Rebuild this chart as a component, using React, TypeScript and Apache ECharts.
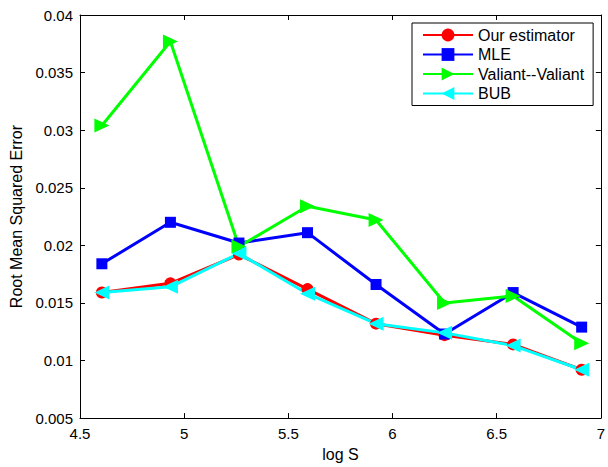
import React, { useEffect, useRef } from "react";
import * as echarts from "echarts";

const xValues = [4.605, 4.934, 5.263, 5.592, 5.921, 6.25, 6.579, 6.908];
const ourEstimator = [0.0159, 0.0167, 0.0192, 0.0162, 0.0132, 0.0122, 0.0114, 0.0092];
const mle = [0.0184, 0.022, 0.0202, 0.0211, 0.0166, 0.0123, 0.0159, 0.0129];
const valiant = [0.0304, 0.0377, 0.0199, 0.0234, 0.0222, 0.0150, 0.0156, 0.0115];
const bub = [0.0159, 0.0164, 0.0193, 0.0158, 0.0132, 0.0124, 0.0113, 0.0092];
const seriesNames = ["Our estimator", "MLE", "Valiant--Valiant", "BUB"];

const FONT = "Liberation Sans";

export default function App() {
  const ref = useRef<HTMLDivElement>(null);
  useEffect(() => {
    const chart = echarts.init(ref.current!, null, { renderer: "svg" });
    const pair = (ys: number[]) => xValues.map((x, i) => [x, ys[i]]);
    const mk = (name: string, ys: number[], color: string, symbol: string, size: any) => ({
      name,
      type: "line",
      data: pair(ys),
      symbol,
      symbolSize: size,
      lineStyle: { color, width: 3 },
      itemStyle: { color },
      z: 2,
    });
    const fmt = (v: number) => String(parseFloat(v.toFixed(3)));
    chart.setOption({
      animation: false,
      backgroundColor: "#ffffff",
      textStyle: { fontFamily: FONT },
      grid: { left: 80, right: 6.5, top: 15, bottom: 41.3 },
      legend: {
        orient: "vertical",
        left: 412,
        top: 23,
        itemWidth: 50,
        itemHeight: 16,
        itemGap: 3.5,
        padding: [4, 9, 4, 10],
        borderColor: "#000",
        borderWidth: 1,
        backgroundColor: "#fff",
        textStyle: { fontFamily: FONT, fontSize: 16, lineHeight: 16, color: "#000" },
        data: seriesNames,
      },
      xAxis: [
        {
          type: "value",
          min: 4.5,
          max: 7,
          interval: 0.5,
          name: "log S",
          nameLocation: "middle",
          nameGap: 25,
          nameTextStyle: { fontFamily: FONT, fontSize: 16, color: "#000" },
          axisLine: { lineStyle: { color: "#000", width: 1 } },
          axisTick: { inside: true, length: 5, lineStyle: { color: "#000" } },
          axisLabel: { color: "#000", fontSize: 15, fontFamily: FONT, margin: 8, formatter: fmt },
          splitLine: { show: false },
        },
        {
          type: "value",
          position: "top",
          min: 4.5,
          max: 7,
          interval: 0.5,
          axisLine: { show: true, lineStyle: { color: "#000", width: 1 } },
          axisTick: { inside: true, length: 5, lineStyle: { color: "#000" } },
          axisLabel: { show: false },
          splitLine: { show: false },
        },
      ],
      yAxis: [
        {
          type: "value",
          min: 0.005,
          max: 0.04,
          interval: 0.005,
          name: "Root Mean Squared Error",
          nameLocation: "middle",
          nameGap: 50,
          nameTextStyle: { fontFamily: FONT, fontSize: 16, color: "#000" },
          axisLine: { show: true, lineStyle: { color: "#000", width: 1 } },
          axisTick: { show: true, inside: true, length: 5, lineStyle: { color: "#000" } },
          axisLabel: { color: "#000", fontSize: 15, fontFamily: FONT, margin: 7, formatter: fmt },
          splitLine: { show: false },
        },
        {
          type: "value",
          position: "right",
          min: 0.005,
          max: 0.04,
          interval: 0.005,
          axisLine: { show: true, lineStyle: { color: "#000", width: 1 } },
          axisTick: { show: true, inside: true, length: 5, lineStyle: { color: "#000" } },
          axisLabel: { show: false },
          splitLine: { show: false },
        },
      ],
      series: [
        mk(seriesNames[0], ourEstimator, "#ff0000", "circle", 12),
        mk(seriesNames[1], mle, "#0000ff", "rect", 11),
        mk(seriesNames[2], valiant, "#00ff00", "path://M0,0 L10,5 L0,10 Z", [15, 14]),
        mk(seriesNames[3], bub, "#00ffff", "path://M10,0 L0,5 L10,10 Z", [15, 14]),
      ],
    });
    return () => chart.dispose();
  }, []);
  return (
    <div
      ref={ref}
      style={{ position: "fixed", left: 0, top: 0, width: 608, height: 467, background: "#fff" }}
    />
  );
}
